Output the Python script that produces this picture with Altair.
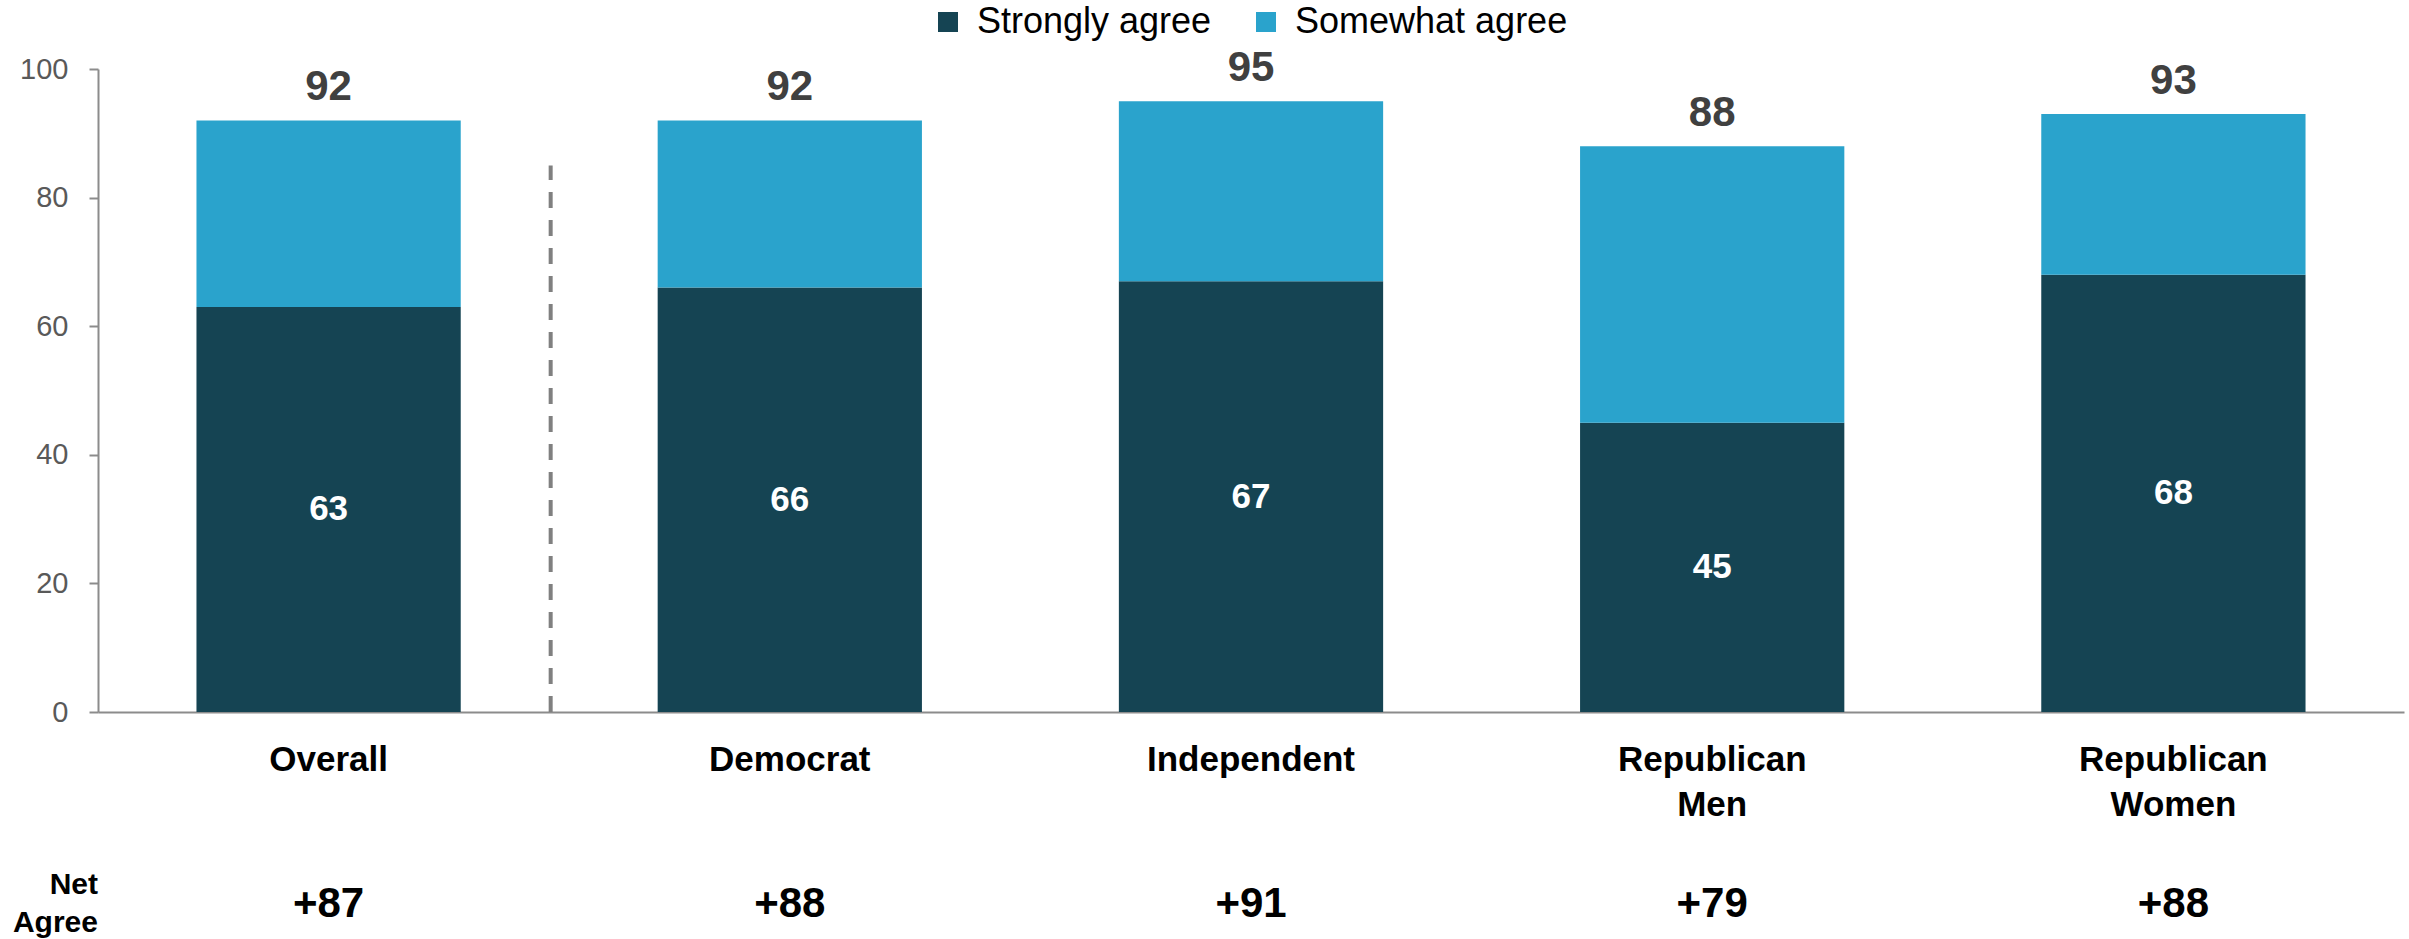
import altair as alt
import pandas as pd

categories = ["Overall", "Democrat", "Independent", "Republican Men", "Republican Women"]
strongly = [63, 66, 67, 45, 68]
somewhat = [29, 26, 28, 43, 25]
totals = [92, 92, 95, 88, 93]
net = ["+87", "+88", "+91", "+79", "+88"]
series = ["Strongly agree", "Somewhat agree"]
colors = ["#154453", "#2AA3CC"]
y_ticks = [0, 20, 40, 60, 80, 100]
separator_top = [85]
net_title = ["Net", "Agree"]

rows = []
for i, c in enumerate(categories):
    rows.append({"cat": c, "series": series[0], "value": strongly[i], "rank": 0})
    rows.append({"cat": c, "series": series[1], "value": somewhat[i], "rank": 1})
long_df = pd.DataFrame(rows)
summary = pd.DataFrame({
    "cat": categories,
    "mid": [s / 2 for s in strongly],
    "strong": strongly,
    "total": totals,
    "net": net,
})
sep_df = pd.DataFrame({"cat": [categories[1]], "y0": [0], "y1": separator_top})
title_df = pd.DataFrame({"t": [0]})

FONT = "Liberation Sans, Arial, sans-serif"
GRAY = "#8c8c8c"

xscale = alt.Scale(domain=categories, paddingInner=0.427, paddingOuter=0.2135)
yscale = alt.Scale(domain=[0, 100])

xaxis = alt.Axis(
    title=None, labelAngle=0, ticks=False, domainColor=GRAY, domainWidth=2,
    labelFont=FONT, labelFontSize=35, labelFontWeight="bold", labelColor="#000000",
    labelPadding=30, labelLineHeight=45, labelLimit=500,
    labelExpr="indexof(datum.label, ' ') > 0 ? split(datum.label, ' ') : datum.label",
)
yaxis = alt.Axis(
    title=None, values=y_ticks, grid=False, tickSize=9, tickWidth=2, tickColor=GRAY,
    domainColor=GRAY, domainWidth=2, labelFont=FONT, labelFontSize=29,
    labelColor="#595959", labelPadding=21,
)

def X(**kw):
    return alt.X("cat:N", scale=xscale, sort=categories, axis=xaxis, **kw)

bars = alt.Chart(long_df).mark_bar().encode(
    x=X(),
    y=alt.Y("value:Q", scale=yscale, stack="zero", axis=yaxis),
    color=alt.Color(
        "series:N",
        scale=alt.Scale(domain=series, range=colors),
        sort=series,
        legend=alt.Legend(
            title=None, orient="none", direction="horizontal", legendX=832, legendY=-65,
            symbolType="square", symbolSize=400, symbolStrokeWidth=0,
            labelFont=FONT, labelFontSize=36, labelColor="#000000",
            columnPadding=36, labelOffset=11, padding=0, labelLimit=500,
        ),
    ),
    order=alt.Order("rank:Q", sort="ascending"),
)

total_text = alt.Chart(summary).mark_text(
    baseline="alphabetic", dy=-20, font=FONT, fontSize=42, fontWeight="bold", color="#404040"
).encode(
    x=X(),
    y=alt.Y("total:Q", scale=yscale, axis=yaxis),
    text=alt.Text("total:Q"),
)

inner_text = alt.Chart(summary).mark_text(
    baseline="middle", font=FONT, fontSize=35, fontWeight="bold", color="#ffffff"
).encode(
    x=X(),
    y=alt.Y("mid:Q", scale=yscale, axis=yaxis),
    text=alt.Text("strong:Q"),
)

net_text = alt.Chart(summary).mark_text(
    baseline="middle", font=FONT, fontSize=42, fontWeight="bold", color="#000000"
).encode(
    x=X(),
    y=alt.value(835),
    text=alt.Text("net:N"),
)

net_label = alt.Chart(title_df).mark_text(
    align="right", baseline="middle", font=FONT, fontSize=30, fontWeight="bold",
    color="#000000", lineHeight=38, text=net_title,
).encode(
    x=alt.value(0),
    y=alt.value(816),
)

sep = alt.Chart(sep_df).mark_rule(
    strokeDash=[16, 12], strokeWidth=4, color="#808080", xOffset=-107
).encode(
    x=X(bandPosition=0),
    y=alt.Y("y0:Q", scale=yscale, axis=yaxis),
    y2="y1:Q",
)

chart = alt.layer(bars, sep, total_text, inner_text, net_text, net_label).properties(
    width=2306, height=643,
    autosize=alt.AutoSizeParams(type="none"),
    padding={"left": 98, "top": 69, "right": 5, "bottom": 227},
).configure_view(stroke=None)

chart.save("out.html", embed_options={"renderer": "svg", "actions": False})
